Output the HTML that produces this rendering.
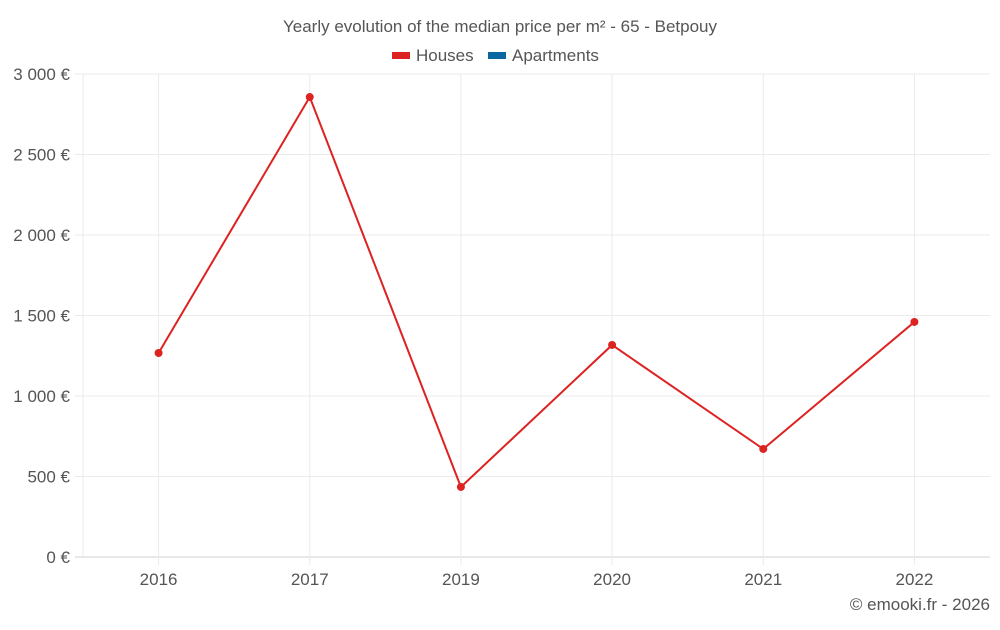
<!DOCTYPE html>
<html><head><meta charset="utf-8"><style>
body{margin:0;background:#fff;font-family:"Liberation Sans",sans-serif;}
svg text{font-family:"Liberation Sans",sans-serif;fill:#555;}
</style></head><body>
<svg id="chart" width="1000" height="625">
<text x="500" y="32" text-anchor="middle" font-size="17">Yearly evolution of the median price per m² - 65 - Betpouy</text>
<g>
<g><rect x="392" y="52" width="18" height="7" fill="#dd2222"/><text x="416" y="61" font-size="17">Houses</text></g>
<g><rect x="488" y="52" width="18" height="7" fill="#0a66a0"/><text x="512" y="61" font-size="17">Apartments</text></g>
</g>
<g id="grid"></g><g id="axes"></g><g id="marks"></g>
<text x="990" y="610" text-anchor="end" font-size="17">© emooki.fr - 2026</text>
</svg>
<script>
const categories=["2016","2017","2019","2020","2021","2022"];
const houses=[1267,2857,435,1317,671,1460];
const yTicks=[0,500,1000,1500,2000,2500,3000];
const yTickLabels=["0 €","500 €","1 000 €","1 500 €","2 000 €","2 500 €","3 000 €"];
const NS="http://www.w3.org/2000/svg";
const L=83,R=990,T=74,B=557,yMax=3000;
const bw=(R-L)/categories.length;
const x=i=>L+bw*(i+0.5);
const y=v=>B-(v/yMax)*(B-T);
function mk(t,a,p){const e=document.createElementNS(NS,t);for(const k in a)e.setAttribute(k,a[k]);p.appendChild(e);return e;}
const grid=document.getElementById('grid'),axes=document.getElementById('axes'),marks=document.getElementById('marks');
yTicks.forEach((v,i)=>{
 const g=mk('line',{x1:L-8,x2:R,y1:y(v),y2:y(v),stroke:i==0?'#d0d0d0':'#ebebeb'},grid);
 
 
 const t=mk('text',{x:70,y:y(v)+6,'text-anchor':'end','font-size':17},axes);
 t.textContent=yTickLabels[i];
 
 
});
const ax=mk('line',{x1:L,x2:L,y1:T,y2:B,stroke:'#ebebeb'},grid);


categories.forEach((c,i)=>{
 const g=mk('line',{x1:x(i),x2:x(i),y1:T,y2:B+8,stroke:'#ebebeb'},grid);
 
 
 const t=mk('text',{x:x(i),y:585,'text-anchor':'middle','font-size':17},axes);
 t.textContent=c;
 
 
});
const pl=mk('polyline',{points:houses.map((v,i)=>x(i)+','+y(v)).join(' '),fill:'none',stroke:'#dd2222','stroke-width':2},marks);


houses.forEach((v,i)=>{
 const c=mk('circle',{cx:x(i),cy:y(v),r:4,fill:'#dd2222'},marks);
 
 
});
</script>
</body></html>
